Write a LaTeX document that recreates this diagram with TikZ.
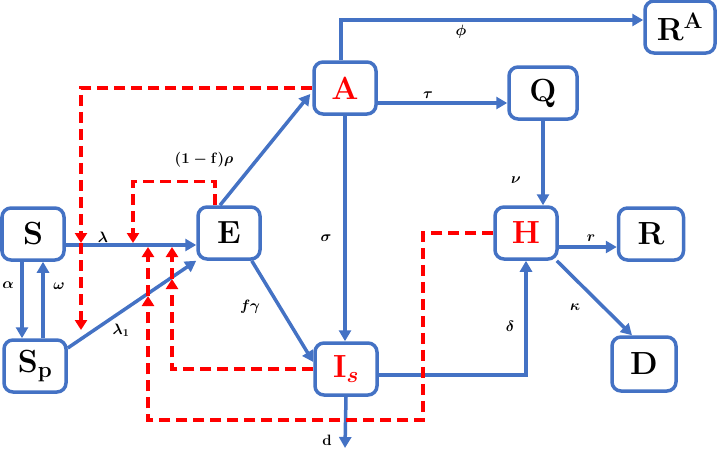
\RequirePackage{fix-cm}
\documentclass[tikz,border=0pt]{standalone}
\usepackage{amsmath}
\usepackage{amssymb}
\usepackage{xcolor}
\usepackage{tikz}
\usetikzlibrary{positioning,calc,arrows.meta,backgrounds}

\definecolor{flowblue}{RGB}{68,114,196}

\tikzset{
	comp/.style={draw=flowblue, line width=3.5pt, rounded corners=9pt, fill=white, minimum width=62pt, minimum height=52pt, inner sep=0pt, font=\fontsize{32}{34}\selectfont\bfseries\boldmath},
	flow/.style={draw=flowblue, line width=3.5pt, -{Triangle[length=11pt,width=12pt]}},
	infect/.style={draw=red, line width=3.5pt, dash pattern=on 11pt off 6pt, -{Triangle[length=10pt,width=12pt]}},
	rate/.style={inner sep=1pt, font=\fontsize{15}{17}\selectfont\boldmath}
}

\begin{document}
\begin{tikzpicture}[x=1pt,y=-1pt]
	\useasboundingbox (0,0) rectangle (722,453);

	\node[comp] (S) at (33,234) {S};
	\node[comp] (Sp) at (35,366) {$\mathbf{S}_{\mathbf{p}}$};
	\node[comp] (E) at (229,233) {E};
	\node[comp, text=red] (A) at (345,88) {A};
	\node[comp, minimum width=68pt] (Q) at (543,93) {Q};
	\node[comp, minimum width=70pt] (RA) at (680,27) {$\mathbf{R}^{\mathbf{A}}$};
	\node[comp, text=red] (H) at (526,233) {H};
	\node[comp, minimum width=65pt] (R) at (651,234) {R};
	\node[comp, minimum width=64pt, minimum height=54pt] (D) at (644,364) {D};
	\node[comp, text=red] (Is) at (346,369) {$\mathbf{I}_{s}$};

	\coordinate (se) at ($(S.east)+(0,11)$);
	\coordinate (sa) at ($(S.south)+(-11,0)$);
	\coordinate (sw) at ($(Sp.north)+(8,0)$);
	\coordinate (aq) at ($(A.east)+(0,15)$);
	\coordinate (ar) at ($(A.north)+(-4,0)$);
	\coordinate (ra) at ($(RA.west)+(0,-7)$);
	\coordinate (hr) at ($(H.east)+(0,14)$);
	\coordinate (death) at (345,448);

	\coordinate (fa) at (81,243);
	\coordinate (fb) at (81,330);
	\coordinate (eb) at (133,243);
	\coordinate (ic) at (172,279);
	\coordinate (id) at (172,247);
	\coordinate (hc) at (423,420);
	\coordinate (hd) at (148,296);
	\coordinate (he) at (148,247);

	\begin{scope}[on background layer]
		\draw[flow] (se) -- (se -| E.west);
		\draw[flow] (sa) -- (sa |- Sp.north);
		\draw[flow] (sw) -- (sw |- S.south);
		\draw[flow] ($(Sp.east)+(0,-18)$) -- (E.south west);
		\draw[flow] ($(E.north)+(-9,0)$) -- ($(A.west)+(-2,6)$);
		\draw[flow] ($(E.south east)+(-10,0)$) -- ($(Is.west)+(0,-7)$);
		\draw[flow] (A.south) -- (A.south |- Is.north);
		\draw[flow] (aq) -- (aq -| Q.west);
		\draw[flow] (ar) |- (ra);
		\draw[flow] (Q.south) -- (Q.south |- H.north);
		\draw[flow] ($(Is.east)+(0,6)$) -| (H.south);
		\draw[flow] (hr) -- (hr -| R.west);
		\draw[flow] ($(H.south east)+(-2,0)$) -- ($(D.north)+(-12,0)$);
		\draw[flow] (Is.south) -- (death);

		\draw[infect] (A.west) -| (fa);
		\draw[infect] (fa) -- (fb);
		\draw[infect] ($(E.north)+(-14,0)$) -- ++(0,-24) -| (eb);
		\draw[infect] (Is.west) -| (ic);
		\draw[infect] (ic) -- (id);
		\draw[infect] (H.west) -| (hc) -| (hd);
		\draw[infect] (hd) -- (he);
	\end{scope}

	\node[rate] (lam) at (103,237) {$\lambda$};
	\node[rate] (alp) at (8,285) {$\alpha$};
	\node[rate] (omg) at (59,286) {$\omega$};
	\node[rate] (lam1) at (121,330) {$\lambda_1$};
	\node[rate] (rho) at (204,160) {$(\mathbf{1-f})\rho$};
	\node[rate] (sig) at (326,238) {$\sigma$};
	\node[rate] (fgam) at (250,307) {$f\gamma$};
	\node[rate] (phi) at (461,32) {$\phi$};
	\node[rate] (tau) at (428,95) {$\tau$};
	\node[rate] (nu) at (516,180) {$\nu$};
	\node[rate] (del) at (510,326) {$\delta$};
	\node[rate] (rr) at (591,238) {$r$};
	\node[rate] (kap) at (575,307) {$\kappa$};
	\node[rate] (dd) at (327,440) {$\mathbf{d}$};
\end{tikzpicture}
\end{document}
